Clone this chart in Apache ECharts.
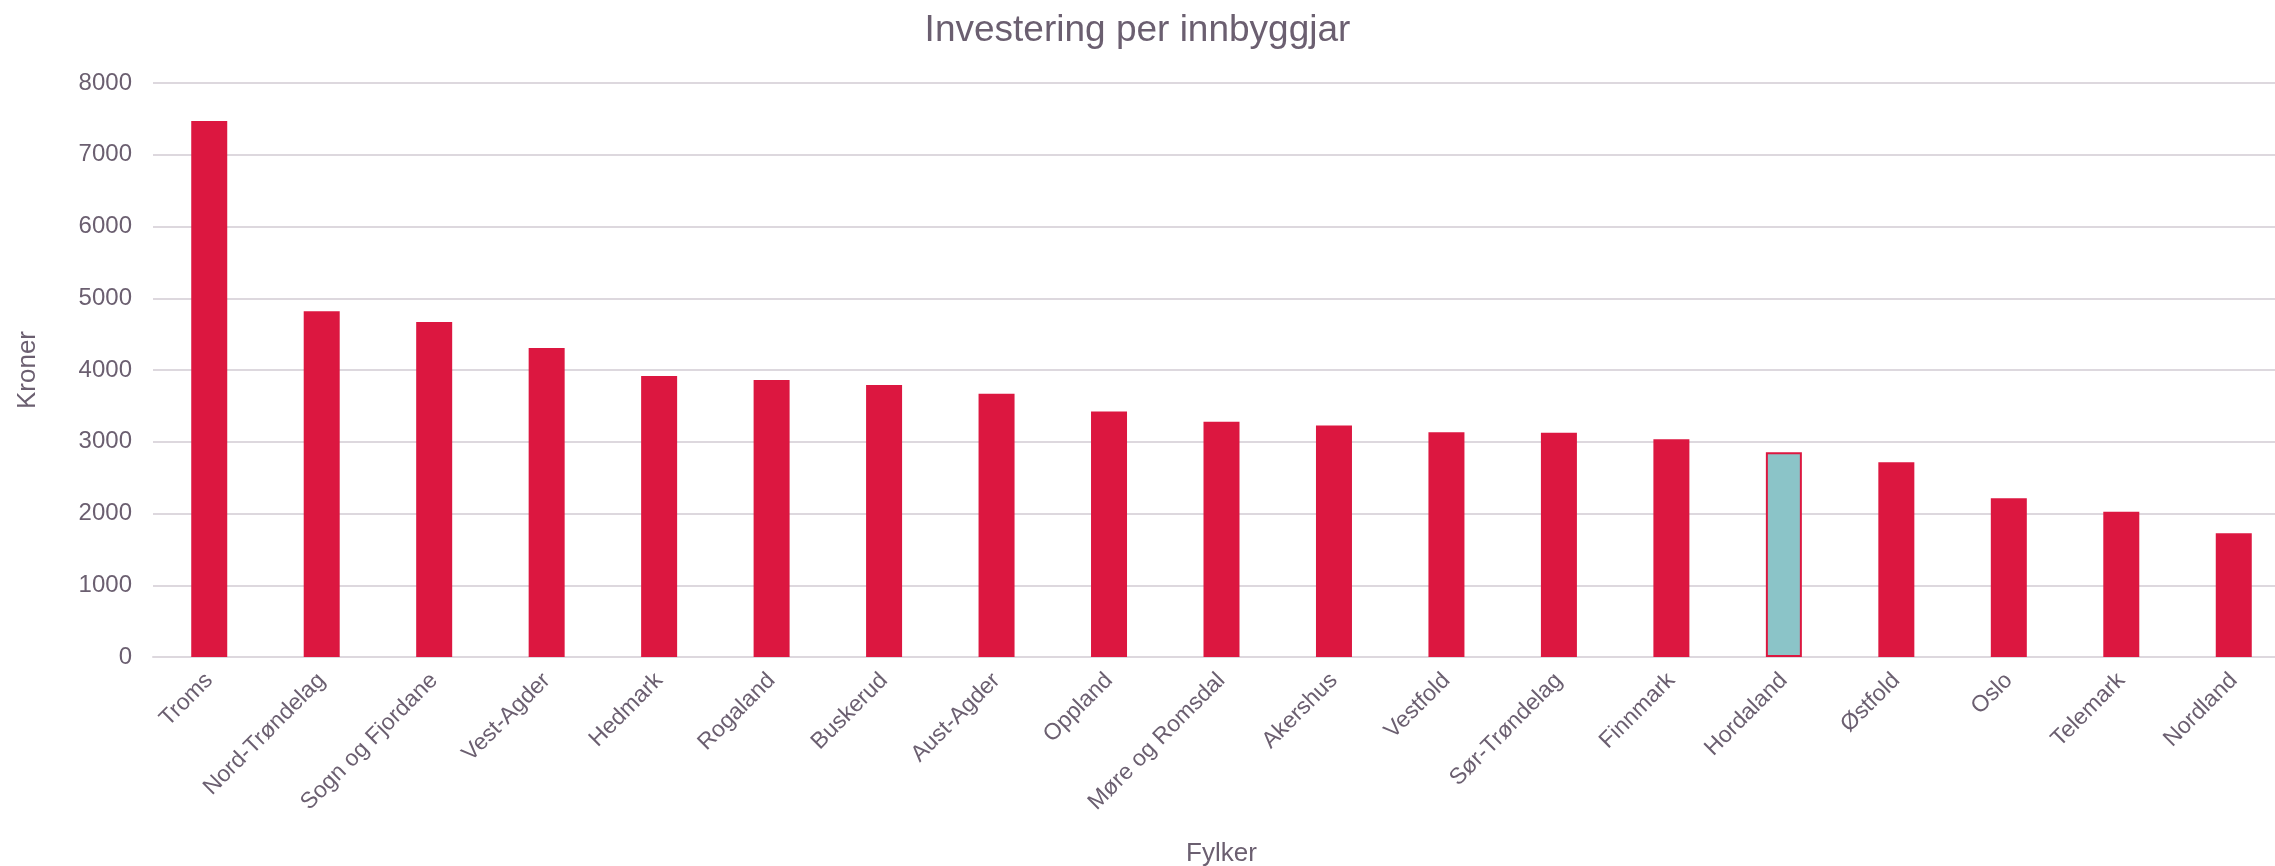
<!DOCTYPE html>
<html>
<head>
<meta charset="utf-8">
<script src="https://cdn.jsdelivr.net/npm/echarts@6/dist/echarts.min.js"></script>
<style>
  html, body { margin: 0; padding: 0; background: #fff; }
  #main { width: 2275px; height: 866px; }
</style>
</head>
<body>
<div id="main"></div>
<script>
var myChart = echarts.init(document.getElementById("main"));

var fylker = ["Troms", "Nord-Trøndelag", "Sogn og Fjordane", "Vest-Agder", "Hedmark", "Rogaland",
    "Buskerud", "Aust-Agder", "Oppland", "Møre og Romsdal", "Akershus", "Vestfold",
    "Sør-Trøndelag", "Finnmark", "Hordaland", "Østfold", "Oslo", "Telemark", "Nordland"];
var kroner = [7470, 4820, 4670, 4305, 3915, 3860, 3790, 3670, 3420, 3280, 3228, 3132,
    3126, 3034, 2853, 2713, 2214, 2024, 1723];
var highlight = "Hordaland";

var textColor = '#6b5f70';
var font = "'Liberation Sans', Arial, sans-serif";

var barData = fylker.map(function (name, i) {
    if (name === highlight) {
        return {
            value: kroner[i],
            itemStyle: { color: '#8bc4c8', borderColor: '#dc1740', borderWidth: 2 }
        };
    }
    return kroner[i];
});

var option = {
    textStyle: { fontFamily: font },
    title: {
        text: 'Investering per innbyggjar',
        left: 'center',
        top: 7,
        textStyle: { fontSize: 37, fontWeight: 'normal', color: textColor, fontFamily: font }
    },
    grid: { left: 153, right: -15, top: 83, bottom: 209, outerBoundsMode: 'none', containLabel: false },
    xAxis: {
        type: 'category',
        data: fylker,
        name: 'Fylker',
        nameLocation: 'middle',
        nameGap: 184,
        nameTextStyle: { fontSize: 26, color: textColor },
        axisLine: { lineStyle: { color: '#ddd8de', width: 2 } },
        axisTick: { show: false },
        axisLabel: { rotate: 45, fontSize: 23, color: textColor, margin: 20, interval: 0 }
    },
    yAxis: {
        type: 'value',
        min: 0,
        max: 8000,
        interval: 1000,
        name: 'Kroner',
        nameLocation: 'middle',
        nameGap: 112,
        nameTextStyle: { fontSize: 26, color: textColor },
        axisLine: { show: false },
        axisTick: { show: false },
        axisLabel: {
            fontSize: 24, color: textColor, margin: 21,
            formatter: function (v) { return String(v); }
        },
        splitLine: { lineStyle: { color: '#ddd8de', width: 2 } }
    },
    series: [{
        name: 'Kroner',
        type: 'bar',
        barWidth: 36,
        itemStyle: { color: '#dc1740' },
        data: barData
    }]
};
myChart.setOption(option);
</script>
</body>
</html>
